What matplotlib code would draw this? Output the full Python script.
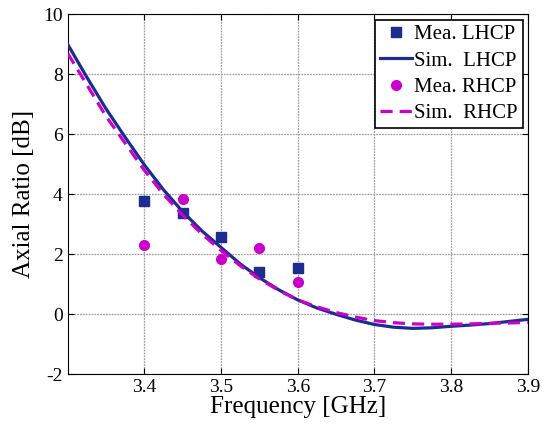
"""Axial ratio vs frequency, measured and simulated LHCP/RHCP."""

import matplotlib
matplotlib.use('Agg')
import matplotlib.pyplot as plt

# Simulated curves
sim_freq = [3.300, 3.325, 3.350, 3.375, 3.400, 3.425, 3.450, 3.475, 3.500,
            3.525, 3.550, 3.575, 3.600, 3.625, 3.650, 3.675, 3.700, 3.725,
            3.750, 3.775, 3.800, 3.825, 3.850, 3.875, 3.900]
sim_lhcp = [9.00, 7.90, 6.85, 5.90, 4.98, 4.15, 3.42, 2.78, 2.23,
            1.68, 1.22, 0.82, 0.48, 0.21, 0.00, -0.19, -0.34, -0.43,
            -0.47, -0.45, -0.40, -0.36, -0.31, -0.24, -0.17]
sim_rhcp = [8.70, 7.65, 6.60, 5.70, 4.80, 4.00, 3.30, 2.68, 2.13,
            1.62, 1.18, 0.80, 0.48, 0.25, 0.06, -0.09, -0.21, -0.28,
            -0.32, -0.33, -0.33, -0.32, -0.30, -0.29, -0.27]

# Measured points
mea_freq = [3.40, 3.45, 3.50, 3.55, 3.60]
mea_lhcp = [3.78, 3.37, 2.59, 1.42, 1.55]
mea_rhcp = [2.30, 3.83, 1.84, 2.22, 1.07]

navy = '#1c2d8f'
magenta = '#cc00cc'

plt.rcParams['font.family'] = ['Liberation Serif', 'DejaVu Serif']
plt.rcParams['axes.unicode_minus'] = False

fig = plt.figure(figsize=(5.46, 4.28), dpi=100)
ax = fig.add_axes([0.124, 0.1255, 0.8425, 0.841])

ax.plot(mea_freq, mea_lhcp, 's', color=navy, markersize=6.5, label='Mea. LHCP', zorder=3)
ax.plot(sim_freq, sim_lhcp, '-', color=navy, lw=2.3, label='Sim.  LHCP', zorder=4)
ax.plot(mea_freq, mea_rhcp, 'o', color=magenta, markersize=7, label='Mea. RHCP', zorder=3)
ax.plot(sim_freq, sim_rhcp, '--', color=magenta, lw=2.3, dashes=(3.8, 2.2), label='Sim.  RHCP', zorder=5)

ax.set_xlim(3.3, 3.9)
ax.set_ylim(-2, 10)
ax.set_xticks([3.4, 3.5, 3.6, 3.7, 3.8, 3.9])
ax.set_yticks([-2, 0, 2, 4, 6, 8, 10])
ax.tick_params(direction='in', top=True, right=True, labelsize=14, length=4, width=0.8)
ax.grid(True, color='#a0a0a0', linestyle=(0, (1.5, 0.8)), lw=0.9)

ax.set_xlabel('Frequency [GHz]', fontsize=18, labelpad=0)
ax.set_ylabel('Axial Ratio [dB]', fontsize=18, labelpad=6)

leg = ax.legend(loc='upper right', fontsize=15, handlelength=1.5, handletextpad=0.1,
                labelspacing=0.32, borderpad=0.25, borderaxespad=0.25,
                fancybox=False, framealpha=1, edgecolor='black')
leg.get_frame().set_linewidth(1.2)

fig.savefig('out.png', dpi=100)
